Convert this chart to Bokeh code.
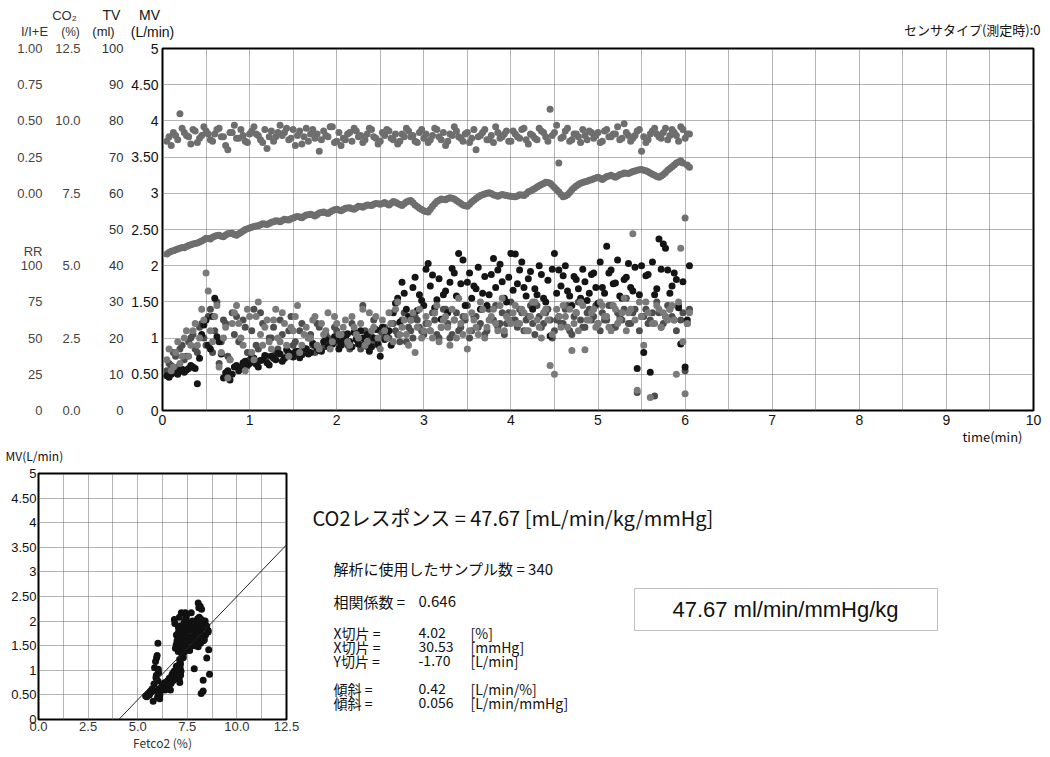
from bokeh.plotting import figure
from bokeh.models import (Range1d, FixedTicker, SingleIntervalTicker, CustomJSTickFormatter,
                          ColumnDataSource, LinearAxis, Label, Slope, BoxAnnotation, Title)
from bokeh.layouts import column, row
from bokeh.embed import file_html
from bokeh.resources import INLINE

# ---------------- data ----------------
# samples on the whole 0.05-min marks
time_min = [0.05, 0.10, 0.15, 0.20, 0.25, 0.30, 0.35, 0.40, 0.45, 0.50,
            0.55, 0.60, 0.65, 0.70, 0.75, 0.80, 0.85, 0.90, 0.95, 1.00,
            1.05, 1.10, 1.15, 1.20, 1.25, 1.30, 1.35, 1.40, 1.45, 1.50,
            1.55, 1.60, 1.65, 1.70, 1.75, 1.80, 1.85, 1.90, 1.95, 2.00,
            2.05, 2.10, 2.15, 2.20, 2.25, 2.30, 2.35, 2.40, 2.45, 2.50,
            2.55, 2.60, 2.65, 2.70, 2.75, 2.80, 2.85, 2.90, 2.95, 3.00,
            3.05, 3.10, 3.15, 3.20, 3.25, 3.30, 3.35, 3.40, 3.45, 3.50,
            3.55, 3.60, 3.65, 3.70, 3.75, 3.80, 3.85, 3.90, 3.95, 4.00,
            4.05, 4.10, 4.15, 4.20, 4.25, 4.30, 4.35, 4.40, 4.45, 4.50,
            4.55, 4.60, 4.65, 4.70, 4.75, 4.80, 4.85, 4.90, 4.95, 5.00,
            5.05, 5.10, 5.15, 5.20, 5.25, 5.30, 5.35, 5.40, 5.45, 5.50,
            5.55, 5.60, 5.65, 5.70, 5.75, 5.80, 5.85, 5.90, 5.95, 6.00,
            6.05]

ie_ratio = [0.36, 0.33, 0.40, 0.55, 0.42, 0.39, 0.44, 0.35, 0.40, 0.43,
            0.37, 0.41, 0.45, 0.39, 0.30, 0.42, 0.38, 0.44, 0.36, 0.41,
            0.46, 0.40, 0.35, 0.31, 0.43, 0.39, 0.47, 0.42, 0.37, 0.44,
            0.40, 0.34, 0.45, 0.41, 0.38, 0.29, 0.43, 0.39, 0.46, 0.36,
            0.33, 0.37, 0.42, 0.45, 0.39, 0.35, 0.41, 0.44, 0.38, 0.36,
            0.40, 0.43, 0.37, 0.34, 0.41, 0.45, 0.39, 0.36, 0.42, 0.38,
            0.35, 0.40, 0.44, 0.37, 0.33, 0.41, 0.46, 0.39, 0.36, 0.42,
            0.38, 0.30, 0.40, 0.44, 0.37, 0.35, 0.42, 0.39, 0.43, 0.36,
            0.41, 0.38, 0.45, 0.34, 0.40, 0.37, 0.43, 0.39, 0.58, 0.42,
            0.21, 0.39, 0.45, 0.37, 0.41, 0.35, 0.40, 0.43, 0.38, 0.42,
            0.36, 0.44, 0.39, 0.41, 0.37, 0.48, 0.40, 0.38, 0.43, 0.29,
            0.35, 0.41, 0.45, 0.39, 0.42, 0.37, 0.44, 0.40, 0.46, 0.38,
            0.41]

co2_pct = [5.40, 5.50, 5.55, 5.60, 5.62, 5.70, 5.75, 5.78, 5.85, 5.95,
           5.92, 6.02, 6.05, 6.00, 6.10, 6.12, 6.05, 6.15, 6.25, 6.30,
           6.35, 6.38, 6.45, 6.42, 6.50, 6.55, 6.52, 6.60, 6.58, 6.65,
           6.70, 6.66, 6.75, 6.78, 6.72, 6.82, 6.85, 6.80, 6.90, 6.95,
           6.90, 6.98, 7.00, 6.95, 7.05, 7.02, 7.10, 7.08, 7.15, 7.12,
           7.18, 7.10, 7.22, 7.15, 7.08, 7.20, 7.25, 7.10, 6.98, 6.90,
           6.85, 7.05, 7.22, 7.30, 7.28, 7.35, 7.30, 7.20, 7.10, 7.05,
           7.20, 7.32, 7.42, 7.48, 7.52, 7.45, 7.40, 7.46, 7.42, 7.40,
           7.38, 7.45, 7.42, 7.55, 7.62, 7.72, 7.80, 7.88, 7.85, 7.70,
           7.55, 7.38, 7.45, 7.62, 7.75, 7.85, 7.90, 7.95, 8.00, 8.05,
           7.98, 8.08, 8.12, 8.05, 8.15, 8.20, 8.18, 8.25, 8.30, 8.32,
           8.28, 8.20, 8.12, 8.05, 8.15, 8.30, 8.42, 8.55, 8.62, 6.65,
           8.40]

mv_lpm = [0.48, 0.50, 0.52, 0.55, 0.53, 0.58, 0.60, 0.37, 1.05, 1.25,
          0.85, 1.55, 0.95, 0.45, 0.55, 0.50, 0.62, 0.58, 0.68, 0.65,
          0.72, 0.60, 0.70, 0.66, 0.75, 0.70, 0.78, 0.72, 0.80, 0.74,
          0.82, 0.77, 0.85, 0.80, 0.90, 0.83, 0.95, 0.88, 0.92, 0.97,
          0.90, 1.02, 0.95, 1.08, 0.92, 1.00, 1.05, 0.88, 1.12, 0.75,
          0.98, 1.10, 1.35, 1.55, 1.77, 1.40, 1.25, 1.84, 1.60, 1.45,
          2.03, 1.87, 1.53, 1.26, 1.65, 1.77, 1.90, 2.17, 2.08, 1.77,
          1.55, 1.68, 1.40, 1.85, 1.60, 2.10, 1.94, 1.78, 1.50, 2.17,
          2.16, 1.94, 1.70, 1.82, 1.40, 1.60, 1.88, 1.50, 1.03, 2.17,
          1.94, 1.86, 1.65, 1.45, 1.81, 1.55, 1.78, 1.62, 1.90, 1.48,
          1.70, 2.27, 1.94, 1.76, 1.58, 1.81, 2.03, 1.65, 0.58, 2.00,
          1.86, 0.53, 1.60, 2.37, 2.30, 1.94, 1.72, 1.81, 0.92, 0.60,
          2.00]

tv_ml = [11.0, 12.4, 15.0, 17.0, 14.0, 19.0, 21.0, 16.0, 24.0, 18.0,
         28.0, 22.0, 13.0, 25.0, 15.0, 27.0, 26.0, 12.0, 23.0, 14.0,
         28.0, 17.0, 24.0, 15.0, 20.0, 16.0, 25.0, 14.4, 22.0, 18.0,
         15.6, 24.0, 17.0, 21.0, 16.0, 23.0, 17.6, 20.0, 18.4, 22.0,
         19.0, 20.0, 17.0, 21.6, 18.4, 29.0, 17.6, 20.4, 19.0, 22.0,
         23.0, 20.0, 24.0, 21.0, 25.0, 19.0, 22.0, 26.0, 23.0, 21.0,
         24.0, 27.0, 21.0, 23.0, 28.0, 20.0, 25.0, 22.0, 26.0, 29.0,
         22.0, 26.0, 24.0, 21.0, 28.0, 25.0, 23.0, 27.0, 24.0, 30.0,
         25.0, 28.0, 22.0, 26.0, 24.0, 29.0, 23.0, 27.0, 25.0, 22.0,
         26.0, 24.0, 29.0, 21.0, 27.0, 25.0, 23.0, 28.0, 26.0, 24.0,
         27.0, 25.0, 29.0, 23.0, 26.0, 28.0, 24.0, 27.0, 5.0, 26.0,
         28.0, 25.0, 4.0, 27.0, 24.0, 29.0, 26.0, 22.0, 25.0, 11.0,
         28.0]

rr_bpm = [35.0, 27.5, 40.0, 32.5, 50.0, 37.5, 55.0, 45.0, 70.0, 95.0,
          55.0, 65.0, 30.0, 50.0, 22.5, 60.0, 72.5, 50.0, 27.5, 65.0,
          35.0, 75.0, 45.0, 62.5, 42.5, 70.0, 47.5, 60.0, 37.5, 55.0,
          72.5, 45.0, 57.5, 50.0, 65.0, 42.5, 52.5, 67.5, 47.5, 60.0,
          52.5, 62.5, 45.0, 57.5, 50.0, 70.0, 47.5, 55.0, 65.0, 42.5,
          55.0, 67.5, 47.5, 75.0, 57.5, 52.5, 62.5, 40.0, 70.0, 55.0,
          60.0, 50.0, 72.5, 57.5, 65.0, 45.0, 62.5, 77.5, 52.5, 42.5,
          67.5, 57.5, 75.0, 50.0, 62.5, 70.0, 55.0, 77.5, 65.0, 60.0,
          72.5, 60.0, 67.5, 55.0, 75.0, 62.5, 50.0, 70.0, 31.0, 25.0,
          65.0, 72.5, 57.5, 41.5, 67.5, 75.0, 42.0, 62.5, 70.0, 60.0,
          72.5, 65.0, 55.0, 70.0, 62.5, 77.5, 67.5, 122.0, 14.0, 65.0,
          75.0, 9.0, 60.0, 70.0, 67.5, 62.5, 72.5, 25.0, 112.0, 11.5,
          67.5]

# samples in between (the .025 marks)
time_min_b = [0.075, 0.125, 0.175, 0.225, 0.275, 0.325, 0.375, 0.425, 0.475, 0.525,
              0.575, 0.625, 0.675, 0.725, 0.775, 0.825, 0.875, 0.925, 0.975, 1.025,
              1.075, 1.125, 1.175, 1.225, 1.275, 1.325, 1.375, 1.425, 1.475, 1.525,
              1.575, 1.625, 1.675, 1.725, 1.775, 1.825, 1.875, 1.925, 1.975, 2.025,
              2.075, 2.125, 2.175, 2.225, 2.275, 2.325, 2.375, 2.425, 2.475, 2.525,
              2.575, 2.625, 2.675, 2.725, 2.775, 2.825, 2.875, 2.925, 2.975, 3.025,
              3.075, 3.125, 3.175, 3.225, 3.275, 3.325, 3.375, 3.425, 3.475, 3.525,
              3.575, 3.625, 3.675, 3.725, 3.775, 3.825, 3.875, 3.925, 3.975, 4.025,
              4.075, 4.125, 4.175, 4.225, 4.275, 4.325, 4.375, 4.425, 4.475, 4.525,
              4.575, 4.625, 4.675, 4.725, 4.775, 4.825, 4.875, 4.925, 4.975, 5.025,
              5.075, 5.125, 5.175, 5.225, 5.275, 5.325, 5.375, 5.425, 5.475, 5.525,
              5.575, 5.625, 5.675, 5.725, 5.775, 5.825, 5.875, 5.925, 5.975, 6.025]

ie_ratio_b = [0.39, 0.42, 0.37, 0.45, 0.40, 0.34, 0.43, 0.38, 0.46, 0.41,
              0.36, 0.44, 0.39, 0.33, 0.42, 0.47, 0.38, 0.40, 0.35, 0.43,
              0.41, 0.37, 0.44, 0.39, 0.36, 0.42, 0.40, 0.45, 0.38, 0.33,
              0.43, 0.39, 0.36, 0.44, 0.41, 0.37, 0.40, 0.46, 0.35, 0.42,
              0.38, 0.41, 0.36, 0.43, 0.40, 0.37, 0.45, 0.39, 0.34, 0.42,
              0.44, 0.38, 0.41, 0.36, 0.39, 0.43, 0.40, 0.35, 0.44, 0.41,
              0.37, 0.45, 0.39, 0.42, 0.36, 0.40, 0.43, 0.38, 0.41, 0.35,
              0.44, 0.39, 0.42, 0.37, 0.40, 0.46, 0.38, 0.41, 0.36, 0.43,
              0.39, 0.44, 0.37, 0.41, 0.38, 0.45, 0.42, 0.36, 0.40, 0.47,
              0.38, 0.43, 0.36, 0.41, 0.39, 0.44, 0.37, 0.42, 0.40, 0.35,
              0.43, 0.39, 0.41, 0.46, 0.38, 0.42, 0.36, 0.40, 0.44, 0.39,
              0.37, 0.43, 0.41, 0.38, 0.45, 0.40, 0.42, 0.36, 0.44, 0.41]

co2_pct_b = [5.46, 5.52, 5.58, 5.63, 5.66, 5.72, 5.77, 5.82, 5.90, 5.94,
             5.98, 6.04, 6.02, 6.06, 6.11, 6.08, 6.10, 6.20, 6.28, 6.33,
             6.37, 6.41, 6.44, 6.46, 6.52, 6.54, 6.56, 6.59, 6.62, 6.68,
             6.68, 6.71, 6.76, 6.75, 6.77, 6.84, 6.83, 6.85, 6.93, 6.92,
             6.94, 6.99, 6.97, 7.00, 7.04, 7.06, 7.09, 7.12, 7.14, 7.15,
             7.14, 7.16, 7.19, 7.11, 7.14, 7.23, 7.18, 7.04, 6.94, 6.87,
             6.95, 7.14, 7.26, 7.29, 7.32, 7.33, 7.25, 7.15, 7.07, 7.12,
             7.26, 7.37, 7.45, 7.50, 7.49, 7.42, 7.43, 7.44, 7.41, 7.39,
             7.41, 7.44, 7.48, 7.58, 7.67, 7.76, 7.84, 7.87, 7.78, 7.62,
             7.46, 7.41, 7.53, 7.69, 7.80, 7.87, 7.92, 7.97, 8.03, 8.02,
             8.03, 8.10, 8.09, 8.10, 8.17, 8.19, 8.22, 8.27, 8.31, 8.30,
             8.24, 8.16, 8.08, 8.10, 8.22, 8.36, 8.48, 8.58, 8.55, 8.48]

mv_lpm_b = [0.46, 0.52, 0.50, 0.57, 0.56, 0.62, 0.58, 0.72, 1.18, 0.90,
            1.30, 1.02, 0.78, 0.52, 0.42, 0.60, 0.55, 0.66, 0.62, 0.74,
            0.64, 0.69, 0.76, 0.63, 0.72, 0.79, 0.68, 0.84, 0.76, 0.81,
            0.73, 0.86, 0.78, 0.93, 0.86, 0.82, 0.98, 0.90, 1.02, 0.85,
            0.96, 1.06, 0.88, 0.98, 1.10, 0.94, 0.82, 1.00, 0.92, 1.15,
            1.04, 0.90, 1.48, 1.22, 1.62, 1.30, 1.70, 1.38, 1.52, 1.95,
            1.72, 1.42, 1.82, 1.60, 1.35, 1.96, 1.58, 1.75, 1.45, 1.90,
            1.72, 1.98, 1.62, 1.45, 1.88, 1.70, 2.02, 1.55, 1.84, 1.66,
            1.75, 2.05, 1.58, 1.92, 1.68, 2.00, 1.55, 1.80, 1.95, 1.62,
            1.72, 2.00, 1.58, 1.85, 1.68, 1.95, 1.52, 1.88, 1.70, 2.05,
            1.62, 1.90, 1.75, 2.08, 1.55, 1.84, 1.70, 1.98, 1.60, 0.80,
            1.88, 2.05, 1.68, 1.95, 2.24, 1.62, 1.90, 1.42, 1.78, 1.25]

tv_ml_b = [13.0, 16.0, 12.0, 18.0, 15.0, 20.0, 17.0, 23.0, 20.0, 26.0,
           16.0, 30.0, 19.0, 24.0, 14.0, 21.0, 19.0, 25.0, 16.0, 22.0,
           18.0, 27.0, 14.0, 20.0, 23.0, 17.0, 21.0, 15.0, 26.0, 19.0,
           22.0, 16.0, 20.0, 18.0, 24.0, 17.0, 21.0, 19.0, 23.0, 18.0,
           21.0, 18.0, 24.0, 20.0, 17.0, 22.0, 19.0, 25.0, 18.0, 21.0,
           20.0, 24.0, 22.0, 19.0, 27.0, 23.0, 20.0, 25.0, 22.0, 24.0,
           22.0, 25.0, 20.0, 28.0, 24.0, 21.0, 27.0, 23.0, 25.0, 20.0,
           26.0, 23.0, 28.0, 22.0, 25.0, 29.0, 24.0, 21.0, 27.0, 25.0,
           23.0, 27.0, 25.0, 29.0, 21.0, 26.0, 24.0, 28.0, 20.0, 25.0,
           24.0, 28.0, 22.0, 26.0, 30.0, 23.0, 27.0, 25.0, 29.0, 22.0,
           25.0, 29.0, 23.0, 27.0, 25.0, 31.0, 24.0, 28.0, 22.0, 26.0,
           24.0, 27.0, 30.0, 23.0, 26.0, 28.0, 25.0, 29.0, 27.0, 24.0]

rr_bpm_b = [42.5, 30.0, 47.5, 37.5, 55.0, 45.0, 60.0, 50.0, 62.5, 82.5,
            47.5, 72.5, 40.0, 57.5, 35.0, 67.5, 60.0, 45.0, 70.0, 40.0,
            65.0, 52.5, 57.5, 47.5, 62.5, 50.0, 67.5, 45.0, 57.5, 65.0,
            40.0, 52.5, 50.0, 62.5, 45.0, 60.0, 55.0, 42.5, 65.0, 52.5,
            57.5, 47.5, 65.0, 52.5, 60.0, 45.0, 67.5, 57.5, 50.0, 62.5,
            50.0, 60.0, 70.0, 52.5, 62.5, 45.0, 67.5, 57.5, 50.0, 65.0,
            55.0, 67.5, 47.5, 62.5, 57.5, 70.0, 50.0, 60.0, 65.0, 55.0,
            62.5, 52.5, 70.0, 57.5, 65.0, 60.0, 72.5, 55.0, 62.5, 67.5,
            60.0, 70.0, 55.0, 65.0, 75.0, 57.5, 67.5, 62.5, 52.5, 70.0,
            57.5, 65.0, 70.0, 60.0, 55.0, 72.5, 62.5, 67.5, 57.5, 75.0,
            65.0, 57.5, 72.5, 60.0, 67.5, 55.0, 70.0, 62.5, 75.0, 45.0,
            67.5, 60.0, 72.5, 57.5, 65.0, 70.0, 62.5, 75.0, 47.5, 60.0]

# axis tick labels
time_ticks = [0, 1, 2, 3, 4, 5, 6, 7, 8, 9, 10]
mv_ticks = [0, 0.5, 1, 1.5, 2, 2.5, 3, 3.5, 4, 4.5, 5]
mv_labels = ["0", "0.50", "1", "1.50", "2", "2.50", "3", "3.50", "4", "4.50", "5"]
tv_ticks = [0, 10, 20, 30, 40, 50, 60, 70, 80, 90, 100]
tv_labels = ["0", "10", "20", "30", "40", "50", "60", "70", "80", "90", "100"]
co2_ticks = [0, 2.5, 5, 7.5, 10, 12.5]
co2_labels = ["0.0", "2.5", "5.0", "7.5", "10.0", "12.5"]
ie_ticks = [0, 0.25, 0.5, 0.75, 1.0]
ie_labels = ["0.00", "0.25", "0.50", "0.75", "1.00"]
rr_ticks = [0, 25, 50, 75, 100]
rr_labels = ["0", "25", "50", "75", "100"]
rr_name_at = 110          # "RR" header sits just above the 100 tick
fet_ticks = [0, 2.5, 5, 7.5, 10, 12.5]
fet_labels = ["0.0", "2.5", "5.0", "7.5", "10.0", "12.5"]

# regression results
co2_response = 47.67
n_samples = 340
corr_coef = 0.646
x_int_pct = 4.02
x_int_mmhg = 30.53
y_int_lpm = -1.70
slope_pct = 0.42
slope_mmhg = 0.056

JP = "Noto Sans CJK JP"
NUM = "Liberation Sans"
W = 1046

src = ColumnDataSource(dict(t=time_min + time_min_b, ie=ie_ratio + ie_ratio_b,
                            co2=co2_pct + co2_pct_b, mv=mv_lpm + mv_lpm_b,
                            tv=tv_ml + tv_ml_b, rr=rr_bpm + rr_bpm_b))


def label_fmt(tvals, tlabels):
    return CustomJSTickFormatter(args=dict(tvals=tvals, tlabels=tlabels), code="""
        for (let i = 0; i < tvals.length; i++) {
            if (Math.abs(tvals[i] - tick) < 1e-6) { return tlabels[i]; }
        }
        return "";
    """)


def plain_axis(ax, size="14px", color="#111111", standoff=3):
    ax.axis_line_color = None
    ax.major_tick_line_color = None
    ax.minor_tick_line_color = None
    ax.major_tick_out = 0
    ax.major_tick_in = 0
    ax.major_label_text_font = NUM
    ax.major_label_text_font_size = size
    ax.major_label_text_color = color
    ax.major_label_standoff = standoff


def style_frame(p):
    p.outline_line_color = "black"
    p.outline_line_width = 2
    p.background_fill_color = "white"
    p.border_fill_color = "white"
    p.grid.grid_line_color = "#6a6a6a"
    p.grid.grid_line_dash = "1 1"
    p.grid.grid_line_width = 1


def blank_fig(w, h, x0, y0, bt=0, bb=0):
    # a text panel whose data coordinates equal page pixels
    f = figure(width=w, height=h, x_range=Range1d(x0, x0 + w), y_range=Range1d(y0 + h - bb, y0 + bt),
               output_backend="svg", toolbar_location=None, min_border=0,
               min_border_top=bt, min_border_bottom=bb,
               x_axis_location=None, y_axis_location=None)
    f.outline_line_color = None
    f.grid.visible = False
    return f


def put(f, text, x, y, size="13px", font=JP, align="left", color="#111111"):
    f.add_layout(Label(x=x, y=y, text=text, text_align=align, text_baseline="middle",
                       text_font=font, text_font_size=size, text_color=color))


# ---------------- header strip above the top chart ----------------
hd = blank_fig(W, 40, 0, 0)
put(hd, "CO\u2082", 64, 15, font=NUM, align="center", color="#333333")
put(hd, "TV", 111, 14, font=NUM, size="14px", align="center", color="#222222")
put(hd, "MV", 149, 14, font=NUM, size="14px", align="center", color="#111111")
put(hd, "I/I+E", 34, 31, font=NUM, align="center", color="#333333")
put(hd, "(%)", 70, 31, font=NUM, size="12px", align="center", color="#333333")
put(hd, "(ml)", 103, 31, font=NUM, align="center", color="#222222")
put(hd, "(L/min)", 152, 31, font=NUM, size="14px", align="center", color="#111111")
put(hd, "センサタイプ(測定時):0", 1040, 29, align="right")

# ---------------- top time-series chart ----------------
top = figure(width=W, height=404, x_range=Range1d(0, 10), y_range=Range1d(0, 5),
             output_backend="svg", toolbar_location=None,
             min_border_left=162, min_border_right=W - 1033, min_border_top=8, min_border_bottom=34)
top.extra_y_ranges = {"ie": Range1d(-1.5, 1.0), "co2": Range1d(0, 12.5),
                      "tv": Range1d(0, 100), "rr": Range1d(0, 250)}
style_frame(top)
top.xaxis.ticker = FixedTicker(ticks=time_ticks)
plain_axis(top.xaxis[0], size="14px", standoff=4)
top.yaxis.ticker = FixedTicker(ticks=mv_ticks)
top.yaxis.formatter = label_fmt(mv_ticks, mv_labels)
plain_axis(top.yaxis[0], size="14px", standoff=4)
top.xgrid.ticker = SingleIntervalTicker(interval=0.5, num_minor_ticks=0)
top.ygrid.ticker = SingleIntervalTicker(interval=0.5, num_minor_ticks=0)

# further left scale columns (TV, CO2, I/I+E with RR below)
ax_tv = LinearAxis(y_range_name="tv", ticker=FixedTicker(ticks=tv_ticks),
                   formatter=label_fmt(tv_ticks, tv_labels))
plain_axis(ax_tv, size="13px", color="#333333", standoff=5)
top.add_layout(ax_tv, "left")

ax_co2 = LinearAxis(y_range_name="co2", ticker=FixedTicker(ticks=co2_ticks),
                    formatter=label_fmt(co2_ticks, co2_labels))
plain_axis(ax_co2, size="13px", color="#444444", standoff=18)
top.add_layout(ax_co2, "left")

ie_rng, rr_rng = top.extra_y_ranges["ie"], top.extra_y_ranges["rr"]


def rr_to_ie(v):
    return ie_rng.start + (v - rr_rng.start) / (rr_rng.end - rr_rng.start) * (ie_rng.end - ie_rng.start)


left_vals = list(ie_ticks) + [rr_to_ie(v) for v in rr_ticks] + [rr_to_ie(rr_name_at)]
left_text = list(ie_labels) + list(rr_labels) + ["RR"]
ax_ie = LinearAxis(y_range_name="ie", ticker=FixedTicker(ticks=left_vals),
                   formatter=label_fmt(left_vals, left_text))
plain_axis(ax_ie, size="13px", color="#444444", standoff=10)
top.add_layout(ax_ie, "left")

DOT = 7
top.scatter("t", "ie", source=src, y_range_name="ie", size=DOT, fill_color="#6e6e6e", line_color=None)
top.scatter("t", "co2", source=src, y_range_name="co2", size=DOT, fill_color="#6e6e6e", line_color=None)
top.scatter("t", "tv", source=src, y_range_name="tv", size=DOT, fill_color="#4e4e4e", line_color=None)
top.scatter("t", "mv", source=src, size=DOT, fill_color="#151515", line_color=None)
top.scatter("t", "rr", source=src, y_range_name="rr", size=DOT, fill_color="#7a7a7a", line_color=None)

top.add_layout(Title(text="time(min)", align="right", offset=11, standoff=-6,
                     text_font=JP, text_font_size="13px", text_font_style="normal",
                     text_color="#111111"), "below")

# ---------------- bottom-left scatter chart ----------------
sc_hd = blank_fig(300, 21, 0, 444)
put(sc_hd, "MV(L/min)", 5, 455, size="12px")

sc = figure(width=300, height=288, x_range=Range1d(0, 12.5), y_range=Range1d(0, 5),
            output_backend="svg", toolbar_location=None,
            min_border_left=38, min_border_right=14, min_border_top=8, min_border_bottom=33)
style_frame(sc)
sc.xaxis.ticker = FixedTicker(ticks=fet_ticks)
sc.xaxis.formatter = label_fmt(fet_ticks, fet_labels)
plain_axis(sc.xaxis[0], size="13px", color="#333333", standoff=2)
sc.yaxis.ticker = FixedTicker(ticks=mv_ticks)
sc.yaxis.formatter = label_fmt(mv_ticks, mv_labels)
plain_axis(sc.yaxis[0], size="13px", standoff=2)
sc.xgrid.ticker = SingleIntervalTicker(interval=1.25, num_minor_ticks=0)
sc.ygrid.ticker = SingleIntervalTicker(interval=0.5, num_minor_ticks=0)
sc.xaxis.axis_label = "Fetco2 (%)"
sc.xaxis.axis_label_text_font = JP
sc.xaxis.axis_label_text_font_size = "12px"
sc.xaxis.axis_label_text_font_style = "normal"
sc.xaxis.axis_label_text_color = "#333333"
sc.xaxis.axis_label_standoff = 0
sc.scatter("co2", "mv", source=src, size=DOT, fill_color="#111111", line_color=None)
sc.add_layout(Slope(gradient=slope_pct, y_intercept=y_int_lpm, line_color="#222222", line_width=1))

# ---------------- bottom-right text panel ----------------
tx = blank_fig(W - 300, 310, 300, 444, bt=29, bb=34)
put(tx, f"CO2レスポンス = {co2_response:.2f} [mL/min/kg/mmHg]", 312, 517, size="20px")
put(tx, f"解析に使用したサンプル数 = {n_samples}", 333, 568, size="15px")
put(tx, "相関係数 =", 333, 601, size="15px")
put(tx, f"{corr_coef:.3f}", 418, 601, size="15px")
for lab, val, unit, yy in zip(["X切片 =", "X切片 =", "Y切片 ="],
                              [f"{x_int_pct:.2f}", f"{x_int_mmhg:.2f}", f"{y_int_lpm:.2f}"],
                              ["[%]", "[mmHg]", "[L/min]"], [632, 646, 660]):
    put(tx, lab, 333, yy, size="14px")
    put(tx, val, 418, yy, size="14px")
    put(tx, unit, 470, yy, size="14px")
for lab, val, unit, yy in zip(["傾斜 =", "傾斜 ="],
                              [f"{slope_pct:.2f}", f"{slope_mmhg:.3f}"],
                              ["[L/min/%]", "[L/min/mmHg]"], [688, 702]):
    put(tx, lab, 333, yy, size="14px")
    put(tx, val, 418, yy, size="14px")
    put(tx, unit, 470, yy, size="14px")

tx.add_layout(BoxAnnotation(left=634, right=937, top=588, bottom=630, fill_color=None,
                            line_color="#333333", line_width=1))
put(tx, f"{co2_response:.2f} ml/min/mmHg/kg", 785, 609, size="22px", font=NUM, align="center")

layout = column(row(hd), top, row(column(row(sc_hd), sc), column(tx)))
open("out.html", "w").write(file_html(layout, INLINE))
